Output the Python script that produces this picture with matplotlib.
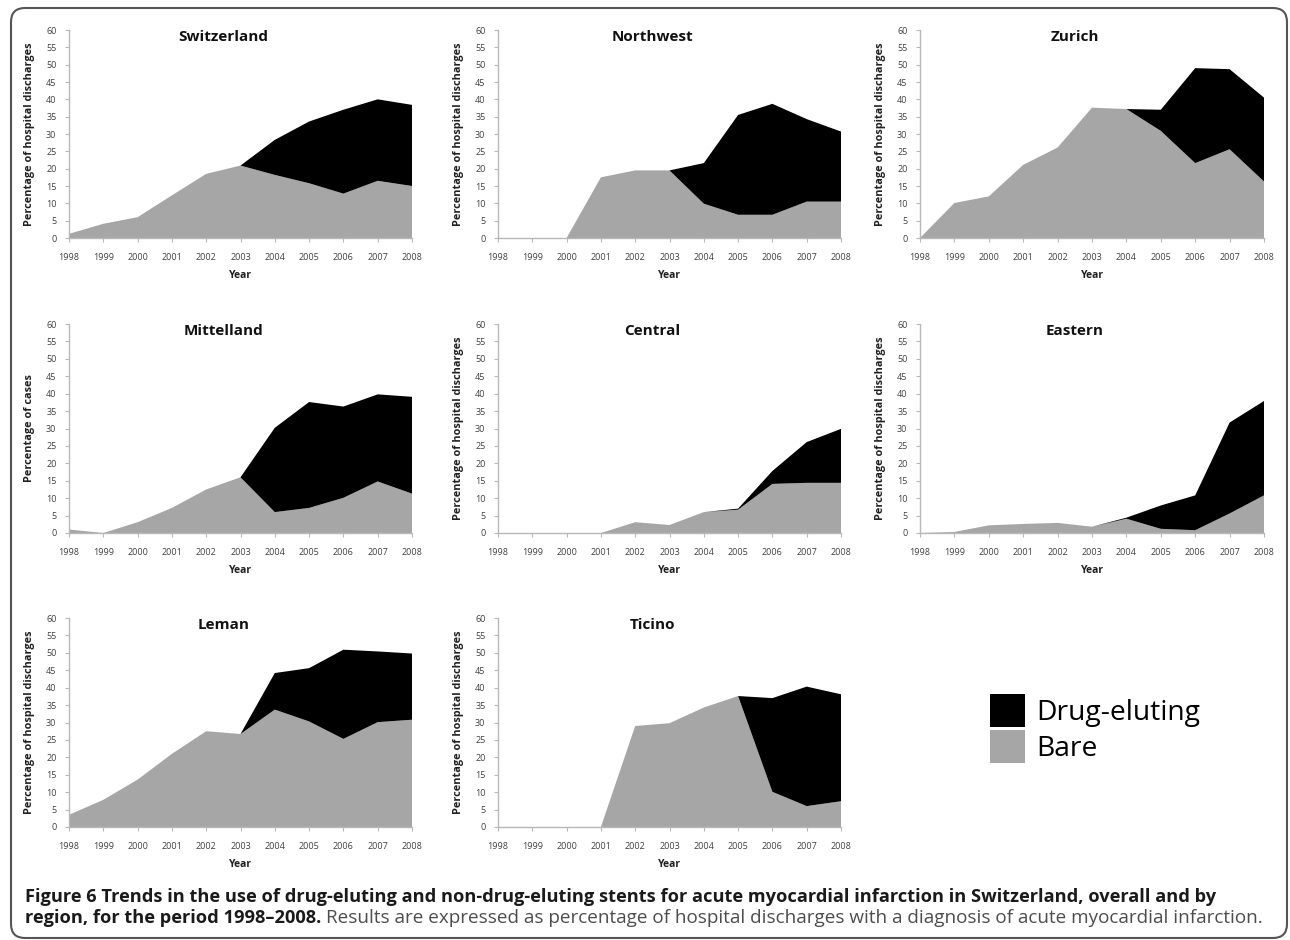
import matplotlib
matplotlib.use("Agg")
import matplotlib.pyplot as plt
from matplotlib.patches import Patch, FancyBboxPatch
from matplotlib.transforms import IdentityTransform

plt.rcParams['font.family'] = ['Open Sans', 'DejaVu Sans']

years = [1998, 1999, 2000, 2001, 2002, 2003, 2004, 2005, 2006, 2007, 2008]

regions = ["Switzerland", "Northwest", "Zurich", "Mittelland", "Central",
           "Eastern", "Leman", "Ticino"]

# percentage of discharges, bare-metal stents
bare_switzerland = [1.2, 4.1, 6.0, 12.3, 18.5, 20.9, 18.2, 15.8, 12.8, 16.5, 15.0]
bare_northwest = [0, 0, 0, 17.5, 19.5, 19.5, 9.9, 6.7, 6.7, 10.5, 10.5]
bare_zurich = [0, 10.1, 12.0, 21.1, 26.1, 37.6, 37.2, 30.9, 21.6, 25.6, 16.3]
bare_mittelland = [1.0, 0, 3.1, 7.2, 12.5, 16.0, 6.0, 7.2, 10.1, 14.8, 11.3]
bare_central = [0, 0, 0, 0, 3.1, 2.3, 6.0, 6.7, 14.1, 14.4, 14.4]
bare_eastern = [0, 0.3, 2.2, 2.6, 2.9, 1.8, 4.1, 1.2, 0.8, 5.6, 10.8]
bare_leman = [3.5, 7.8, 13.6, 21.0, 27.5, 26.7, 33.7, 30.3, 25.3, 30.1, 30.8]
bare_ticino = [0, 0, 0, 0, 29.0, 29.8, 34.3, 37.6, 10.1, 6.0, 7.4]

# percentage of discharges, drug-eluting stents
drug_switzerland = [0, 0, 0, 0, 0, 0, 10.1, 17.8, 24.2, 23.5, 23.4]
drug_northwest = [0, 0, 0, 0, 0, 0, 11.7, 28.8, 32.0, 23.8, 20.2]
drug_zurich = [0, 0, 0, 0, 0, 0, 0, 6.1, 27.4, 23.1, 24.2]
drug_mittelland = [0, 0, 0, 0, 0, 0, 24.2, 30.4, 26.2, 25.0, 27.8]
drug_central = [0, 0, 0, 0, 0, 0, 0, 0.3, 3.7, 11.7, 15.5]
drug_eastern = [0, 0, 0, 0, 0, 0, 0.3, 6.7, 10.0, 26.1, 27.1]
drug_leman = [0, 0, 0, 0, 0, 0, 10.5, 15.3, 25.6, 20.3, 19.0]
drug_ticino = [0, 0, 0, 0, 0, 0, 0, 0, 26.9, 34.3, 30.7]

bare_all = [bare_switzerland, bare_northwest, bare_zurich, bare_mittelland,
            bare_central, bare_eastern, bare_leman, bare_ticino]
drug_all = [drug_switzerland, drug_northwest, drug_zurich, drug_mittelland,
            drug_central, drug_eastern, drug_leman, drug_ticino]
ylabels = ["Percentage of hospital discharges"] * 8
ylabels[3] = "Percentage of cases"

W, H = 1290, 940
GREY = "#a6a6a6"
AXC = "#b8b8b8"
TXT = "#404040"

fig = plt.figure(figsize=(W / 100, H / 100), dpi=100)

# panel boxes in pixels: left, right, top, bottom
cols = [(69, 412), (498, 841), (920, 1264)]
rows = [(30, 238), (324, 533), (618, 827)]

for i, name in enumerate(regions):
    l, r = cols[i % 3]
    t, b = rows[i // 3]
    ax = fig.add_axes([l / W, 1 - b / H, (r - l) / W, (b - t) / H])
    ax.stackplot(years, bare_all[i], drug_all[i], colors=[GREY, "black"],
                 linewidth=0)
    ax.set_xlim(1998, 2008)
    ax.set_ylim(0, 60)
    ax.set_xticks(years)
    ax.set_yticks(range(0, 61, 5))
    for s in ["top", "right"]:
        ax.spines[s].set_visible(False)
    for s in ["left", "bottom"]:
        ax.spines[s].set_color(AXC)
        ax.spines[s].set_linewidth(1)
    ax.tick_params(axis="both", colors=AXC, labelcolor=TXT, labelsize=6.5,
                   length=3, width=0.8)
    ax.tick_params(axis="x", pad=8)
    ax.tick_params(axis="y", pad=6)
    ax.set_ylabel(ylabels[i], fontsize=7.8, fontweight="bold", color="#202020")
    ax.yaxis.set_label_coords(-0.1, 0.5)
    ax.set_xlabel("Year", fontsize=7.5, fontweight="bold", color="#202020")
    ax.xaxis.set_label_coords(0.5, -0.155)
    ax.text(0.45, 0.965, name, transform=ax.transAxes, ha="center",
            va="center", fontsize=11, fontweight="bold", color="#111111")

handles = [Patch(facecolor="black", label="Drug-eluting"),
           Patch(facecolor=GREY, label="Bare")]
fig.legend(handles=handles, loc="upper left",
           bbox_to_anchor=(976 / W, 1 - 680 / H), frameon=False,
           fontsize=20.3, handlelength=1.25, handleheight=1.4,
           handletextpad=0.4, labelspacing=0.12, borderpad=0)

# caption
y1 = 1 - 897 / H
y2 = 1 - 918 / H
fig.text(25 / W, y1, "Figure 6 Trends in the use of drug-eluting and "
         "non-drug-eluting stents for acute myocardial infarction in "
         "Switzerland, overall and by", fontsize=13.15, fontweight="bold",
         color="#1a1a1a", va="center")
bold2 = fig.text(25 / W, y2, "region, for the period 1998\u20132008.",
                 fontsize=13.15, fontweight="bold", color="#1a1a1a", va="center")
renderer = fig.canvas.get_renderer()
bb = bold2.get_window_extent(renderer)
fig.text((bb.x1 + 5) / W, y2, "Results are expressed as percentage of "
         "hospital discharges with a diagnosis of acute myocardial infarction.",
         fontsize=13.6, color="#4d4d4d", va="center")

# rounded frame round the whole figure
frame = FancyBboxPatch((11, 2), 1276, 930,
                       boxstyle="round,pad=0,rounding_size=14",
                       transform=IdentityTransform(), facecolor="none",
                       edgecolor="#555555", linewidth=1.5)
fig.patches.append(frame)

fig.savefig("out.png", dpi=100)
